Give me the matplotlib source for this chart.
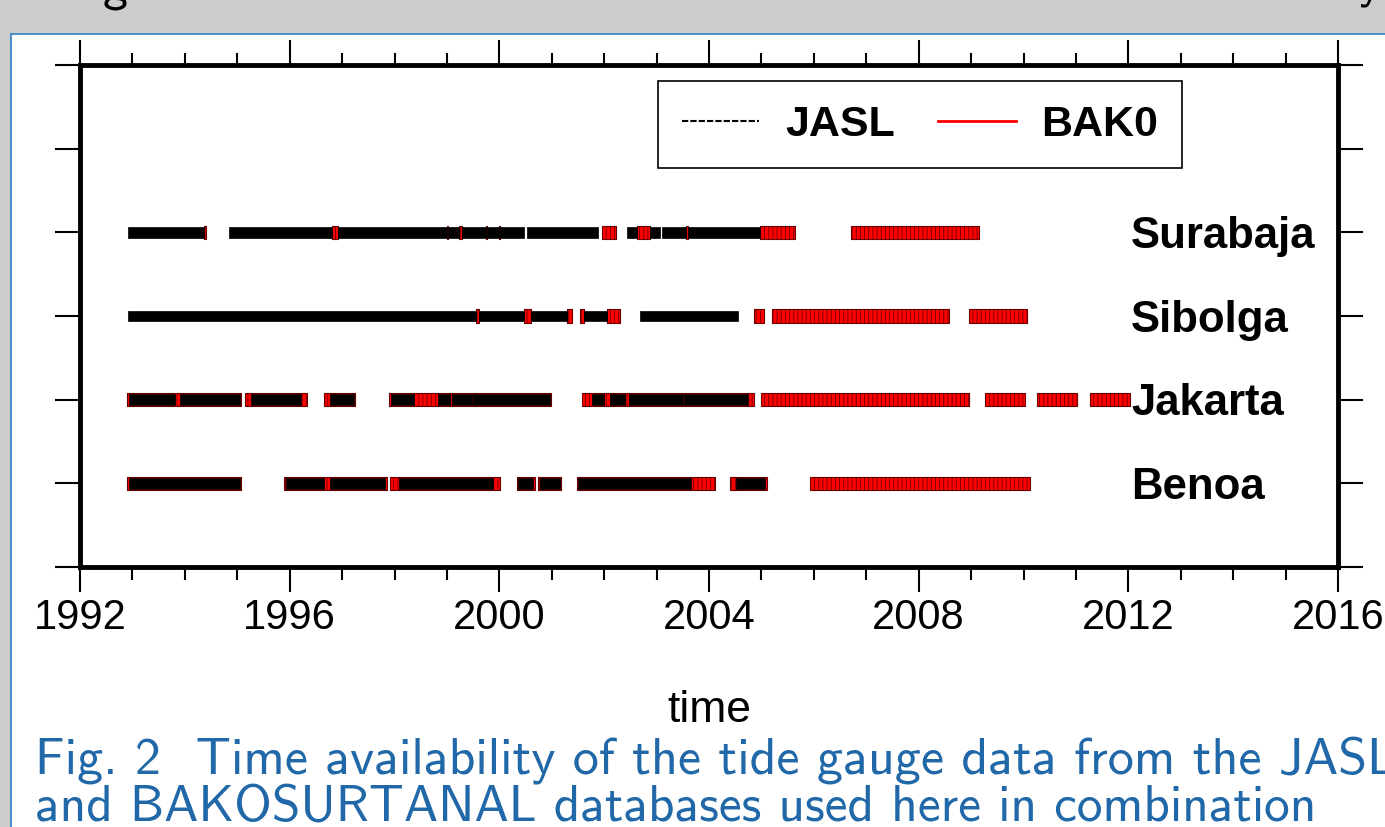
import matplotlib
matplotlib.use('Agg')
import matplotlib.pyplot as plt
from matplotlib.lines import Line2D
from matplotlib.patches import Rectangle

# Datenfenster (dezimale Jahre)
stations = ['Benoa', 'Jakarta', 'Sibolga', 'Surabaja']
rows = [1, 2, 3, 4]

surabaja_jasl = [(1992.92, 1994.36), (1994.85, 1996.80), (1996.93, 1999.00), (1999.03, 1999.24),
                 (1999.28, 1999.74), (1999.77, 1999.99), (2000.02, 2000.48), (2000.52, 2001.88),
                 (2002.43, 2002.63), (2002.87, 2003.06), (2003.10, 2003.56), (2003.59, 2004.97)]
surabaja_bak0 = [(1994.36, 1994.40), (1996.80, 1996.93), (1999.00, 1999.03), (1999.24, 1999.28),
                 (1999.74, 1999.77), (1999.99, 2000.02), (2001.95, 2002.23), (2002.63, 2002.87),
                 (2003.56, 2003.59), (2004.97, 2005.64), (2006.71, 2009.15)]

sibolga_jasl = [(1992.92, 1999.56), (1999.62, 2000.47), (2000.61, 2001.30), (2001.62, 2002.05),
                (2002.69, 2004.56)]
sibolga_bak0 = [(1999.56, 1999.62), (2000.47, 2000.61), (2001.30, 2001.38), (2001.53, 2001.62),
                (2002.05, 2002.31), (2004.86, 2005.05), (2005.20, 2008.57), (2008.96, 2010.07)]

jakarta_jasl = [(1992.93, 1993.81), (1993.90, 1995.05), (1995.26, 1996.21), (1996.76, 1997.22),
                (1997.93, 1998.38), (1998.83, 1999.06), (1999.10, 1999.47), (1999.50, 2000.96),
                (2001.77, 2001.99), (2002.11, 2002.39), (2002.47, 2003.50), (2003.53, 2004.74)]
jakarta_bak0 = [(1992.89, 1995.08), (1995.15, 1996.34), (1996.65, 1997.25), (1997.90, 2000.99),
                (2001.58, 2004.86), (2005.00, 2008.96), (2009.26, 2010.03), (2010.26, 2011.03),
                (2011.27, 2012.04)]

benoa_jasl = [(1992.93, 1995.05), (1995.93, 1996.65), (1996.76, 1997.82), (1998.09, 1999.88),
              (2000.36, 2000.65), (2000.77, 2001.15), (2001.51, 2003.66), (2004.51, 2005.07)]
benoa_bak0 = [(1992.89, 1995.08), (1995.90, 1997.85), (1997.91, 2000.01), (2000.33, 2000.68),
              (2000.74, 2001.18), (2001.48, 2004.11), (2004.41, 2005.10), (2005.92, 2010.12)]

jasl_all = [benoa_jasl, jakarta_jasl, sibolga_jasl, surabaja_jasl]
bak0_all = [benoa_bak0, jakarta_bak0, sibolga_bak0, surabaja_bak0]

year_ticks = [1992, 1996, 2000, 2004, 2008, 2012, 2016]
minor_years = list(range(1992, 2017))

caption_1 = 'Fig. 2  Time availability of the tide gauge data from the JASL'
caption_2 = 'and BAKOSURTANAL databases used here in combination'

plt.rcParams['hatch.linewidth'] = 0.6
helv = 'Liberation Sans'

fig = plt.figure(figsize=(13.85, 8.27), dpi=100, facecolor='#cccccc')

# weisses Folienfeld hinter allem
panel = Rectangle((11 / 1385, -0.05), 1.0, 0.05 + 1 - 34 / 827, transform=fig.transFigure,
                  facecolor='white', edgecolor='#2e7ec4', linewidth=1.2, zorder=-10)
fig.patches.append(panel)

# Reste des abgeschnittenen Titels
fig.text(103 / 1385, 1 + 1 / 827, 'g', fontsize=36, family='cmss10', va='baseline')
fig.text(1358 / 1385, 1 + 3 / 827, 'y', fontsize=36, family='cmss10', va='baseline')

ax = fig.add_axes([80 / 1385, 1 - 567 / 827, 1258 / 1385, 502 / 827])
ax.set_zorder(5)

for row, bak, jas in zip(rows, bak0_all, jasl_all):
    ax.broken_barh([(a, b - a) for a, b in bak], (row - 0.08, 0.16), facecolor='red',
                   edgecolor='#6a0000', linewidth=0.8, hatch='||||', zorder=2)
    ax.broken_barh([(a, b - a) for a, b in jas], (row - 0.065, 0.13), facecolor='black',
                   edgecolor='black', linewidth=0.5, zorder=3)

for row, name in zip(rows, stations):
    ax.text(2012.05, row - 0.05, name, fontsize=31.5, fontweight='bold', family=helv,
            va='center', ha='left')

ax.set_xlim(1992, 2016)
ax.set_ylim(0, 6)
ax.set_xticks(year_ticks)
ax.set_xticklabels([str(y) for y in year_ticks], fontsize=30, family=helv)
ax.set_xticks(minor_years, minor=True)
ax.set_yticks(range(7))
ax.set_yticklabels([])
ax.tick_params(which='both', direction='out', top=True, right=True, width=1.5)
ax.tick_params(which='major', length=18, pad=4)
ax.tick_params(axis='x', which='minor', length=9)
for sp in ax.spines.values():
    sp.set_linewidth(3.5)

ax.set_xlabel('time', fontsize=32, family=helv, labelpad=38)

handles = [Line2D([], [], color='black', linestyle=(0, (3, 1)), linewidth=1.5),
           Line2D([], [], color='red', linewidth=2)]
leg = ax.legend(handles, ['JASL', 'BAK0'], ncol=2, loc='upper right', bbox_to_anchor=(0.876, 0.968),
                borderaxespad=0, fancybox=False, framealpha=1, edgecolor='black',
                prop={'family': helv, 'weight': 'bold', 'size': 31},
                handlelength=1.8, handletextpad=0.6, columnspacing=1.0, borderpad=0.55)
leg.get_frame().set_linewidth(1.2)

fig.text(35 / 1385, 1 - 774 / 827, caption_1, fontsize=37.5, family='cmss10', color='#2068a8', va='baseline')
fig.text(35 / 1385, 1 - 821 / 827, caption_2, fontsize=37, family='cmss10', color='#2068a8', va='baseline')

fig.savefig('out.png', dpi=100, facecolor=fig.get_facecolor())
